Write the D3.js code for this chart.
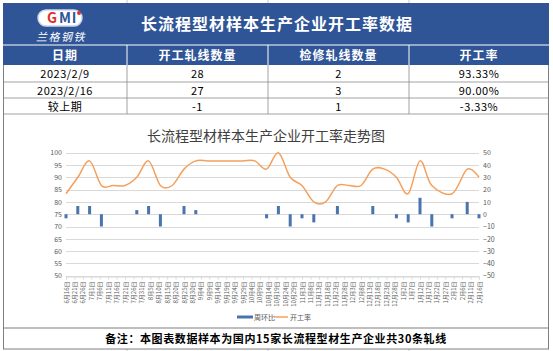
<!DOCTYPE html>
<html>
<head>
<meta charset="utf-8">
<script src="https://cdn.jsdelivr.net/npm/d3@7"></script>
<style>
    body { margin: 0; background: #ffffff; }
    text { font-family: "Noto Sans CJK SC", "Noto Sans", sans-serif; }
</style>
</head>
<body>
<svg id="chart" width="553" height="351"></svg>
<script>
// Table data
const tableHeader = ['日期', '开工轧线数量', '检修轧线数量', '开工率'];
const tableRows = [
    ['2023/2/9', '28', '2', '93.33%'],
    ['2023/2/16', '27', '3', '90.00%'],
    ['较上期', '-1', '1', '-3.33%']
];

// Weekly series
const dates = ['2022-06-16', '2022-06-23', '2022-06-30', '2022-07-07', '2022-07-14', '2022-07-21',
    '2022-07-28', '2022-08-04', '2022-08-11', '2022-08-18', '2022-08-25', '2022-09-01',
    '2022-09-08', '2022-09-15', '2022-09-22', '2022-09-29', '2022-10-06', '2022-10-13',
    '2022-10-20', '2022-10-27', '2022-11-03', '2022-11-10', '2022-11-17', '2022-11-24',
    '2022-12-01', '2022-12-08', '2022-12-15', '2022-12-22', '2022-12-29', '2023-01-05',
    '2023-01-12', '2023-01-19', '2023-01-31', '2023-02-09', '2023-02-16'];
const rate = [83.33, 90, 96.67, 86.67, 86.67, 86.67, 90, 96.67, 86.67, 86.67, 93.33, 96.67,
    96.67, 96.67, 96.67, 96.67, 96.67, 93.33, 100, 90, 86.67, 80, 80, 86.67,
    86.67, 86.67, 93.33, 93.33, 90, 83.33, 96.67, 86.67, 83.33, 93.33, 90];
const weekChange = [-3.33, 6.67, 6.67, -10, 0, 0, 3.33, 6.67, -10, 0, 6.67, 3.33,
    0, 0, 0, 0, 0, -3.33, 6.67, -10, -3.33, -6.67, 0, 6.67,
    0, 0, 6.67, 0, -3.33, -6.67, 13.33, -10, -3.33, 10, -3.33];

const leftTicks = [50, 55, 60, 65, 70, 75, 80, 85, 90, 95, 100];
const rightTicks = [-50, -40, -30, -20, -10, 0, 10, 20, 30, 40, 50];
const seriesNames = ['周环比', '开工率'];

const blue = '#2f5597';
const barColor = '#4a74ad';
const lineColor = '#f4a05c';

let svg = d3.select('#chart');
let colX = [3, 127, 268, 409, 549];

// faint sheet gridlines above and below the block
for (let x of colX.slice(1, 4)) {
    svg.append('line').attr('x1', x).attr('x2', x).attr('y1', 0).attr('y2', 3).attr('stroke', '#c8c8c8');
    svg.append('line').attr('x1', x).attr('x2', x).attr('y1', 349).attr('y2', 351).attr('stroke', '#c8c8c8');
}

// Title banner
svg.append('rect').attr('x', 3).attr('y', 3).attr('width', 546).attr('height', 62).attr('fill', blue);
svg.append('line').attr('x1', 3).attr('x2', 549).attr('y1', 45).attr('y2', 45).attr('stroke', '#ffffff').attr('stroke-width', 1);

// Logo
let logo = svg.append('g').attr('transform', 'translate(60,18)');
logo.append('rect').attr('x', -22).attr('y', -8).attr('width', 44).attr('height', 16).attr('rx', 8)
    .attr('fill', '#ffffff').attr('stroke', '#c9d6ee').attr('stroke-width', 1.5);
logo.append('text').attr('x', -8).attr('y', 5).attr('text-anchor', 'middle')
    .attr('font-size', 14).attr('font-weight', 'bold').attr('fill', '#e03030').text('G');
logo.append('text').attr('x', 5).attr('y', 5).attr('text-anchor', 'middle')
    .attr('font-size', 14).attr('font-weight', 'bold').attr('fill', blue).text('M');
logo.append('text').attr('x', 14).attr('y', 5).attr('text-anchor', 'middle')
    .attr('font-size', 14).attr('font-weight', 'bold').attr('fill', blue).text('I');
logo.append('circle').attr('cx', 19).attr('cy', -5).attr('r', 2).attr('fill', '#e03030');
svg.append('text').attr('x', 61).attr('y', 41).attr('text-anchor', 'middle')
    .attr('font-size', 11).attr('font-style', 'italic').attr('fill', '#ffffff')
    .attr('letter-spacing', 1.5).text('兰格钢铁');

svg.append('text').attr('x', 277).attr('y', 30).attr('text-anchor', 'middle')
    .attr('font-size', 16).attr('font-weight', 'bold').attr('fill', '#ffffff')
    .attr('letter-spacing', 1).text('长流程型材样本生产企业开工率数据');

// Header row
for (let i = 1; i < 4; i++)
    svg.append('line').attr('x1', colX[i]).attr('x2', colX[i]).attr('y1', 45).attr('y2', 65).attr('stroke', '#ffffff');
tableHeader.forEach((h, i) => {
    svg.append('text').attr('x', (colX[i] + colX[i + 1]) / 2).attr('y', 59.5).attr('text-anchor', 'middle')
        .attr('font-size', 12).attr('font-weight', 'bold').attr('fill', '#ffffff')
        .attr('letter-spacing', 1).text(h);
});

// Body rows
let rowY = [65, 82, 98, 114];
tableRows.forEach((row, r) => {
    row.forEach((cell, i) => {
        svg.append('text').attr('x', (colX[i] + colX[i + 1]) / 2).attr('y', rowY[r] + 12.5)
            .attr('text-anchor', 'middle').attr('font-size', 11).attr('fill', '#000000')
            .attr('letter-spacing', 0.5).text(cell);
    });
    svg.append('line').attr('x1', 3).attr('x2', 549).attr('y1', rowY[r + 1]).attr('y2', rowY[r + 1])
        .attr('stroke', '#8c8c8c').attr('stroke-width', 0.8);
    for (let i = 1; i < 4; i++)
        svg.append('line').attr('x1', colX[i]).attr('x2', colX[i]).attr('y1', rowY[r]).attr('y2', rowY[r + 1])
            .attr('stroke', '#8c8c8c').attr('stroke-width', 0.8);
});

// Outer borders
svg.append('line').attr('x1', 3.5).attr('x2', 3.5).attr('y1', 65).attr('y2', 349).attr('stroke', '#7f7f7f');
svg.append('line').attr('x1', 548.5).attr('x2', 548.5).attr('y1', 65).attr('y2', 349).attr('stroke', '#7f7f7f');
svg.append('line').attr('x1', 3).attr('x2', 549).attr('y1', 328).attr('y2', 328).attr('stroke', '#7f7f7f');
svg.append('line').attr('x1', 3).attr('x2', 549).attr('y1', 349).attr('y2', 349).attr('stroke', '#7f7f7f');

// Footer
svg.append('text').attr('x', 276).attr('y', 343).attr('text-anchor', 'middle')
    .attr('font-size', 11).attr('font-weight', 'bold').attr('fill', '#000000')
    .attr('letter-spacing', 0.6).text('备注：本图表数据样本为国内15家长流程型材生产企业共30条轧线');

// Chart
svg.append('text').attr('x', 266).attr('y', 140.5).attr('text-anchor', 'middle')
    .attr('font-size', 14).attr('fill', '#404040').text('长流程型材样本生产企业开工率走势图');

let parse = d3.timeParse('%Y-%m-%d');
let points = dates.map((d, i) => ({date: parse(d), rate: rate[i], change: weekChange[i]}));
let start = parse(dates[0]);
let end = parse(dates[dates.length - 1]);

let x = d3.scaleTime().domain([start, end]).range([66, 479]);
let yL = d3.scaleLinear().domain([50, 100]).range([275.7, 152.7]);
let yR = d3.scaleLinear().domain([-50, 50]).range([275.7, 152.7]);

// Gridlines
svg.append('g').selectAll('line').data(leftTicks).join('line')
    .attr('x1', 66).attr('x2', 479)
    .attr('y1', d => Math.round(yL(d)) + 0.5).attr('y2', d => Math.round(yL(d)) + 0.5)
    .attr('stroke', '#d9d9d9').attr('stroke-width', 1);

// Left axis
let leftAxis = svg.append('g').attr('transform', 'translate(64,0)')
    .call(d3.axisLeft(yL).tickValues(leftTicks).tickSize(0).tickPadding(2));
leftAxis.select('.domain').remove();
leftAxis.selectAll('text').attr('font-size', 7).attr('fill', '#595959');

// Right axis
let rightAxis = svg.append('g').attr('transform', 'translate(481,0)')
    .call(d3.axisRight(yR).tickValues(rightTicks).tickSize(0).tickPadding(2));
rightAxis.select('.domain').remove();
rightAxis.selectAll('text').attr('font-size', 7).attr('fill', '#595959');

// Bottom axis, 5-day ticks
let tickDates = d3.range(0, d3.timeDay.count(start, end) + 1, 5).map(d => d3.timeDay.offset(start, d));
let bottomAxis = svg.append('g').attr('transform', 'translate(0,' + (Math.round(yL(50)) + 0.5) + ')')
    .call(d3.axisBottom(x).tickValues(tickDates).tickFormat(d3.timeFormat('%-m月%-d日')).tickSize(3).tickPadding(2));
bottomAxis.select('.domain').attr('stroke', '#d9d9d9');
bottomAxis.selectAll('line').attr('stroke', '#d9d9d9');
bottomAxis.selectAll('text')
    .attr('font-size', 6).attr('fill', '#595959')
    .attr('transform', 'rotate(-90)')
    .attr('text-anchor', 'end')
    .attr('dy', '0.35em')
    .attr('x', -5).attr('y', 0);

// Bars (weekly change, right axis)
svg.append('g').selectAll('rect').data(points.filter(p => p.change !== 0)).join('rect')
    .attr('x', d => x(d.date) - 1.5)
    .attr('width', 3)
    .attr('y', d => Math.min(yR(d.change), yR(0)))
    .attr('height', d => Math.abs(yR(d.change) - yR(0)))
    .attr('fill', barColor);

// Rate line (left axis)
let line = d3.line().x(d => x(d.date)).y(d => yL(d.rate)).curve(d3.curveCardinal.tension(0));
svg.append('path').datum(points).attr('d', line)
    .attr('fill', 'none').attr('stroke', lineColor).attr('stroke-width', 1.5);

// Legend
let legend = svg.append('g').attr('transform', 'translate(237,317)');
legend.append('rect').attr('x', 0).attr('y', -1.5).attr('width', 16).attr('height', 3).attr('fill', barColor);
legend.append('text').attr('x', 17).attr('y', 2.5).attr('font-size', 7).attr('fill', '#595959').text(seriesNames[0]);
legend.append('line').attr('x1', 37).attr('x2', 51).attr('y1', 0).attr('y2', 0)
    .attr('stroke', lineColor).attr('stroke-width', 1.5);
legend.append('text').attr('x', 53).attr('y', 2.5).attr('font-size', 7).attr('fill', '#595959').text(seriesNames[1]);
</script>
</body>
</html>
